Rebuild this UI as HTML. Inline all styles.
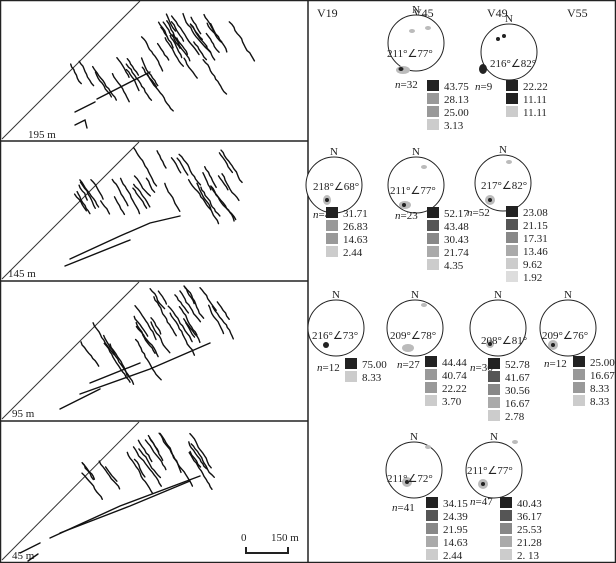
<!DOCTYPE html>
<html><head><meta charset="utf-8"><style>
body{margin:0;background:#fff}
svg{display:block;font-family:"Liberation Serif",serif}
</style></head><body>
<svg id="s" width="616" height="563" viewBox="0 0 616 563" xmlns="http://www.w3.org/2000/svg">
<rect x="0.5" y="0.5" width="615" height="562" fill="#fff" stroke="#222" stroke-width="1.5"/>
<line x1="308" y1="0" x2="308" y2="563" stroke="#222" stroke-width="1.5"/>
<line x1="0" y1="141" x2="308" y2="141" stroke="#222" stroke-width="1.5"/>
<line x1="0" y1="281" x2="308" y2="281" stroke="#222" stroke-width="1.5"/>
<line x1="0" y1="421" x2="308" y2="421" stroke="#222" stroke-width="1.5"/>
<g stroke="#333" stroke-width="1" fill="none">
<line x1="2" y1="139" x2="140" y2="1"/>
<line x1="2" y1="279" x2="139" y2="142"/>
<line x1="2" y1="419" x2="139" y2="282"/>
<line x1="2" y1="560" x2="139" y2="422"/>
</g>
<g font-size="11" fill="#222">
<text x="28" y="138">195 m</text>
<text x="8" y="277">145 m</text>
<text x="12" y="417">95 m</text>
<text x="12" y="559">45 m</text>
<text x="241" y="541">0</text>
<text x="271" y="541">150 m</text>
</g>
<path d="M246 547 V553 H288 V547" stroke="#222" stroke-width="2" fill="none"/>
<g id="fr" stroke="#111" stroke-width="1.4" fill="none" stroke-linecap="round"></g>
<g font-size="12" fill="#222">
<text x="317" y="17">V19</text><text x="413" y="17">V45</text><text x="487" y="17">V49</text><text x="567" y="17">V55</text>
</g>
<g id="st" font-size="11" fill="#222"></g>
</svg>
<script>
var fr=document.getElementById('fr'),st=document.getElementById('st');
var seed=7;function r(){seed=(seed*9301+49297)%233280;return seed/233280;}
function pl(oy,pts){var p=document.createElementNS('http://www.w3.org/2000/svg','polyline');p.setAttribute('points',pts.map(function(a){return a[0].toFixed(1)+','+(a[1]+oy).toFixed(1)}).join(' '));fr.appendChild(p);}
function cluster(oy,n,x0,x1,y0,y1){for(var i=0;i<n;i++){var x=x0+r()*(x1-x0),y=y0+r()*(y1-y0);var L=18+r()*40,pts=[[x,y]];var steps=Math.round(L/4);for(var k=0;k<steps;k++){x+=1.5+r()*1.8-0.6;y+=2.2+r()*1.2;pts.push([x,y]);}pl(oy,pts);}}
cluster(0,20,140,215,10,60);cluster(0,11,65,150,55,78);cluster(0,7,170,230,10,35);
pl(0,[[97,99],[150,72]]);pl(0,[[75,112],[95,102]]);pl(0,[[75,125],[85,120],[87,128]]);
cluster(141,20,130,225,5,50);cluster(141,11,70,150,30,62);pl(141,[[70,118],[120,95],[150,82],[180,75]]);pl(141,[[65,125],[130,99]]);
cluster(281,20,130,220,5,45);cluster(281,8,80,150,40,68);pl(281,[[80,113],[150,88],[210,62]]);pl(281,[[90,102],[140,82]]);pl(281,[[60,128],[100,108]]);
cluster(421,16,120,205,10,42);cluster(421,5,80,120,40,58);pl(421,[[50,117],[120,85],[200,55]]);pl(421,[[60,112],[130,85],[190,60]]);pl(421,[[20,132],[40,122]]);pl(421,[[28,140],[38,133]]);
function net(cx,cy,lab,lx,ly,n,nx,ny,leg,lgx,lgy,blobs){
var h='<circle cx="'+cx+'" cy="'+cy+'" r="28" fill="#fff" stroke="#222" stroke-width="1"/>';
h+='<text x="'+(cx-4)+'" y="'+(cy-30)+'" font-size="11">N</text>';
blobs.forEach(function(b){h+='<ellipse cx="'+b[0]+'" cy="'+b[1]+'" rx="'+b[2]+'" ry="'+b[3]+'" fill="'+b[4]+'"/>';});
h+='<text x="'+lx+'" y="'+ly+'" font-size="11">'+lab+'</text>';
h+='<text x="'+nx+'" y="'+ny+'" font-size="11"><tspan font-style="italic">n</tspan>='+n+'</text>';
var cols=['#222','#555','#888','#aaa','#ccc','#ddd'];
leg.forEach(function(v,i){var c=leg.length==2?(i?'#ccc':'#222'):(leg.length==3?['#222','#222','#ccc'][i]:(leg.length==4?['#222','#999','#999','#ccc'][i]:cols[i]));
h+='<rect x="'+lgx+'" y="'+(lgy+i*13)+'" width="12" height="11" fill="'+c+'"/><text x="'+(lgx+17)+'" y="'+(lgy+i*13+10)+'">'+v+'</text>';});
st.insertAdjacentHTML('beforeend',h);}
var G='#bbb',D='#222';
net(416,43,'211°∠77°',387,57,32,395,88,['43.75','28.13','25.00','3.13'],427,80,[[403,70,7,4,G],[401,69,2.5,2,D],[412,31,3,2,G],[428,28,3,2,G]]);
net(509,52,'216°∠82°',490,67,9,475,90,['22.22','11.11','11.11'],506,80,[[483,69,4,5,D],[498,39,2,2,D],[504,36,2,2,D]]);
net(334,185,'218°∠68°',313,190,41,313,218,['31.71','26.83','14.63','2.44'],326,207,[[327,200,4,5,G],[327,200,2,2,D]]);
net(416,185,'211°∠77°',390,194,23,395,219,['52.17','43.48','30.43','21.74','4.35'],427,207,[[405,205,6,4,G],[404,205,2,2,D],[424,167,3,2,G]]);
net(503,183,'217°∠82°',481,189,52,467,216,['23.08','21.15','17.31','13.46','9.62','1.92'],506,206,[[490,200,5,5,G],[490,200,2,2,D],[509,162,3,2,G]]);
net(336,328,'216°∠73°',312,339,12,317,371,['75.00','8.33'],345,358,[[326,345,3,3,D]]);
net(415,328,'209°∠78°',390,339,27,397,368,['44.44','40.74','22.22','3.70'],425,356,[[408,348,6,4,G],[424,305,3,2,G]]);
net(498,328,'208°∠81°',481,344,36,470,371,['52.78','41.67','30.56','16.67','2.78'],488,358,[[490,344,4,4,G],[490,344,2,2,D]]);
net(568,328,'209°∠76°',542,339,12,544,367,['25.00','16.67','8.33','8.33'],573,356,[[553,345,5,5,G],[553,345,2,2,D]]);
net(414,470,'211°∠72°',387,482,41,392,511,['34.15','24.39','21.95','14.63','2.44'],426,497,[[407,482,5,5,G],[407,482,2,2,D],[428,447,3,2,G]]);
net(494,470,'211°∠77°',467,474,47,470,505,['40.43','36.17','25.53','21.28','2. 13'],500,497,[[483,484,5,5,G],[483,484,2,2,D],[515,442,3,2,G]]);
</script>
</body></html>
